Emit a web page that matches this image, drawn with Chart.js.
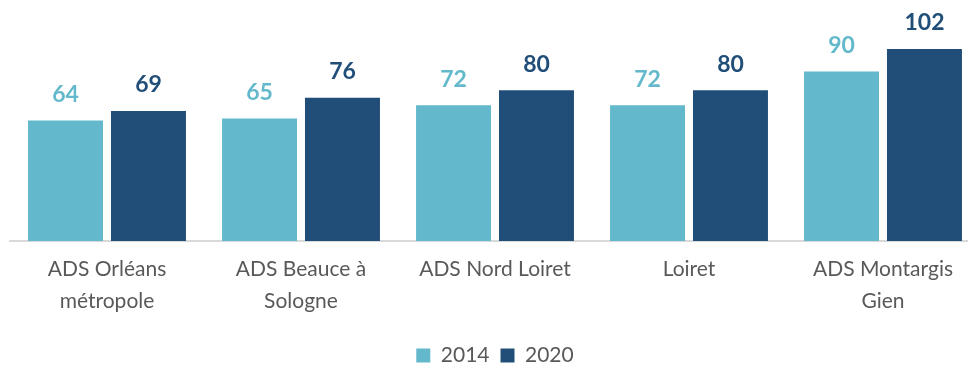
<!DOCTYPE html>
<html>
<head>
<meta charset="utf-8">
<script src="https://cdn.jsdelivr.net/npm/chart.js@4"></script>
<style>
  html, body { margin: 0; padding: 0; background: #fff; overflow: hidden; }
  #wrap { width: 980px; height: 367px; }
</style>
</head>
<body>
<div id="wrap"><canvas id="adsChart"></canvas></div>
<script>
const categories = [
  ["ADS Orléans", "métropole"],
  ["ADS Beauce à", "Sologne"],
  "ADS Nord Loiret",
  "Loiret",
  ["ADS Montargis", "Gien"]
];
const values2014 = [64, 65, 72, 72, 90];
const values2020 = [69, 76, 80, 80, 102];

const lightBlue = "#63b9cb";
const darkBlue = "#204e78";
const fontFamily = "Lato, 'Open Sans', sans-serif";

// value labels above each bar
const barValues = {
  id: "barValues",
  afterDatasetsDraw(chart) {
    const ctx = chart.ctx;
    ctx.save();
    ctx.font = "bold 23px " + fontFamily;
    ctx.textAlign = "center";
    ctx.textBaseline = "middle";
    chart.data.datasets.forEach((ds, i) => {
      const meta = chart.getDatasetMeta(i);
      ctx.fillStyle = ds.labelColor;
      meta.data.forEach((bar, j) => {
        ctx.fillText(ds.data[j], bar.x, bar.y - 26);
      });
    });
    ctx.restore();
  }
};

new Chart(document.getElementById("adsChart"), {
  type: "bar",
  data: {
    labels: categories,
    datasets: [
      { label: "2014", data: values2014, backgroundColor: lightBlue, labelColor: lightBlue },
      { label: "2020", data: values2020, backgroundColor: darkBlue, labelColor: darkBlue }
    ]
  },
  options: {
    responsive: true,
    maintainAspectRatio: false,
    animation: false,
    categoryPercentage: 0.855,
    barPercentage: 0.904,
    layout: { padding: { top: 15, left: 10, right: 0, bottom: -9 } },
    plugins: {
      legend: {
        position: "bottom",
        labels: {
          boxWidth: 14,
          boxHeight: 14,
          color: "#595959",
          font: { size: 21, family: fontFamily },
          padding: 11
        }
      },
      tooltip: { enabled: false }
    },
    scales: {
      x: {
        grid: { display: false },
        border: { color: "#d9d9d9", width: 2 },
        ticks: {
          color: "#595959",
          maxRotation: 0,
          padding: 4,
          font: { size: 21, lineHeight: 1.55, family: fontFamily }
        },
        // extra room under the labels so the baseline sits higher
        afterFit(scale) { scale.height += 12; }
      },
      y: {
        display: false,
        min: 0,
        max: 120
      }
    }
  },
  plugins: [barValues]
});
</script>
</body>
</html>
